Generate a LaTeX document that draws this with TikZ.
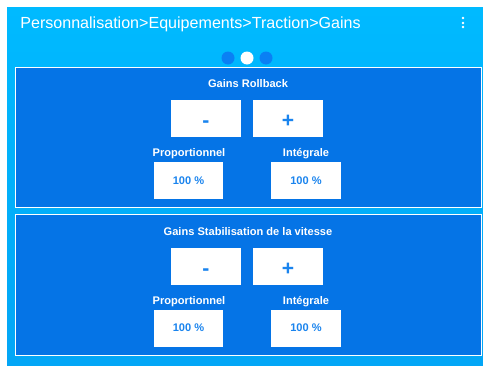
\documentclass[tikz,border=0pt]{standalone}
\usepackage{fontspec}
\setmainfont{Liberation Sans}
\usepackage{tikz}
\usetikzlibrary{positioning,calc}

\definecolor{screentop}{HTML}{00BAFF}
\definecolor{screenbot}{HTML}{03A6F6}
\definecolor{panelblue}{HTML}{0574E6}
\definecolor{btnblue}{HTML}{1A84EE}
\definecolor{dotblue}{HTML}{0A80F4}

\begin{document}
\begin{tikzpicture}[
  x=0.02cm, y=-0.02cm,
  panel/.style={draw=white, line width=0.8pt, fill=panelblue, anchor=north west, minimum width=9.32cm, inner sep=0pt},
  btn/.style={fill=white, minimum width=1.4cm, minimum height=0.74cm, inner sep=0pt, text=btnblue, text height=1.0em, text depth=0pt, font=\fontsize{12}{14}\selectfont\bfseries},
  valbox/.style={fill=white, minimum width=1.4cm, minimum height=0.74cm, inner sep=0pt, text=btnblue, font=\fontsize{6.3}{8}\selectfont\bfseries},
  ttl/.style={text=white, inner sep=0pt, font=\fontsize{6.3}{8}\selectfont\bfseries},
  pagedot/.style={circle, fill=#1, minimum size=7.4pt, inner sep=0pt},
  pagedot/.default=dotblue,
]
\useasboundingbox (0,0) rectangle (483,365);
\fill[white] (0,0) rectangle (483,365);
\fill[top color=screentop, bottom color=screenbot] (7,7) rectangle (483,365);

% header
\node[anchor=west, text=white, inner sep=0pt, font=\fontsize{9.15}{11}\selectfont] (path) at (20,24) {Personnalisation>Equipements>Traction>Gains};
\foreach \yy in {18,23,27}
  \fill[white] (463,\yy) circle (0.75pt);
\node[pagedot] (dota) at (228,58) {};
\node[pagedot=white] (dotb) at (247,58) {};
\node[pagedot] (dotc) at (266,58) {};

% Gains Rollback
\node[panel, minimum height=2.8cm] (rollback) at (15,67) {};
\node[ttl] (rbtitle) at (248,84) {Gains Rollback};
\node[btn] (rbminus) at (206,118.5) {-};
\node[btn] (rbplus) at (288,118.5) {+};
\node[ttl] (rbplab) at (189,154) {Proportionnel};
\node[ttl] (rbilab) at (306,154) {Intégrale};
\node[valbox] (rbpval) at (188.5,180.5) {100 \%};
\node[valbox] (rbival) at (306,180.5) {100 \%};

% Gains Stabilisation de la vitesse
\node[panel, minimum height=2.82cm] (stab) at (15,214) {};
\node[ttl] (sttitle) at (248,232) {Gains Stabilisation de la vitesse};
\node[btn] (stminus) at (206,266.5) {-};
\node[btn] (stplus) at (288,266.5) {+};
\node[ttl] (stplab) at (189,302) {Proportionnel};
\node[ttl] (stilab) at (306,302) {Intégrale};
\node[valbox] (stpval) at (188.5,328) {100 \%};
\node[valbox] (stival) at (306,328) {100 \%};
\end{tikzpicture}
\end{document}
